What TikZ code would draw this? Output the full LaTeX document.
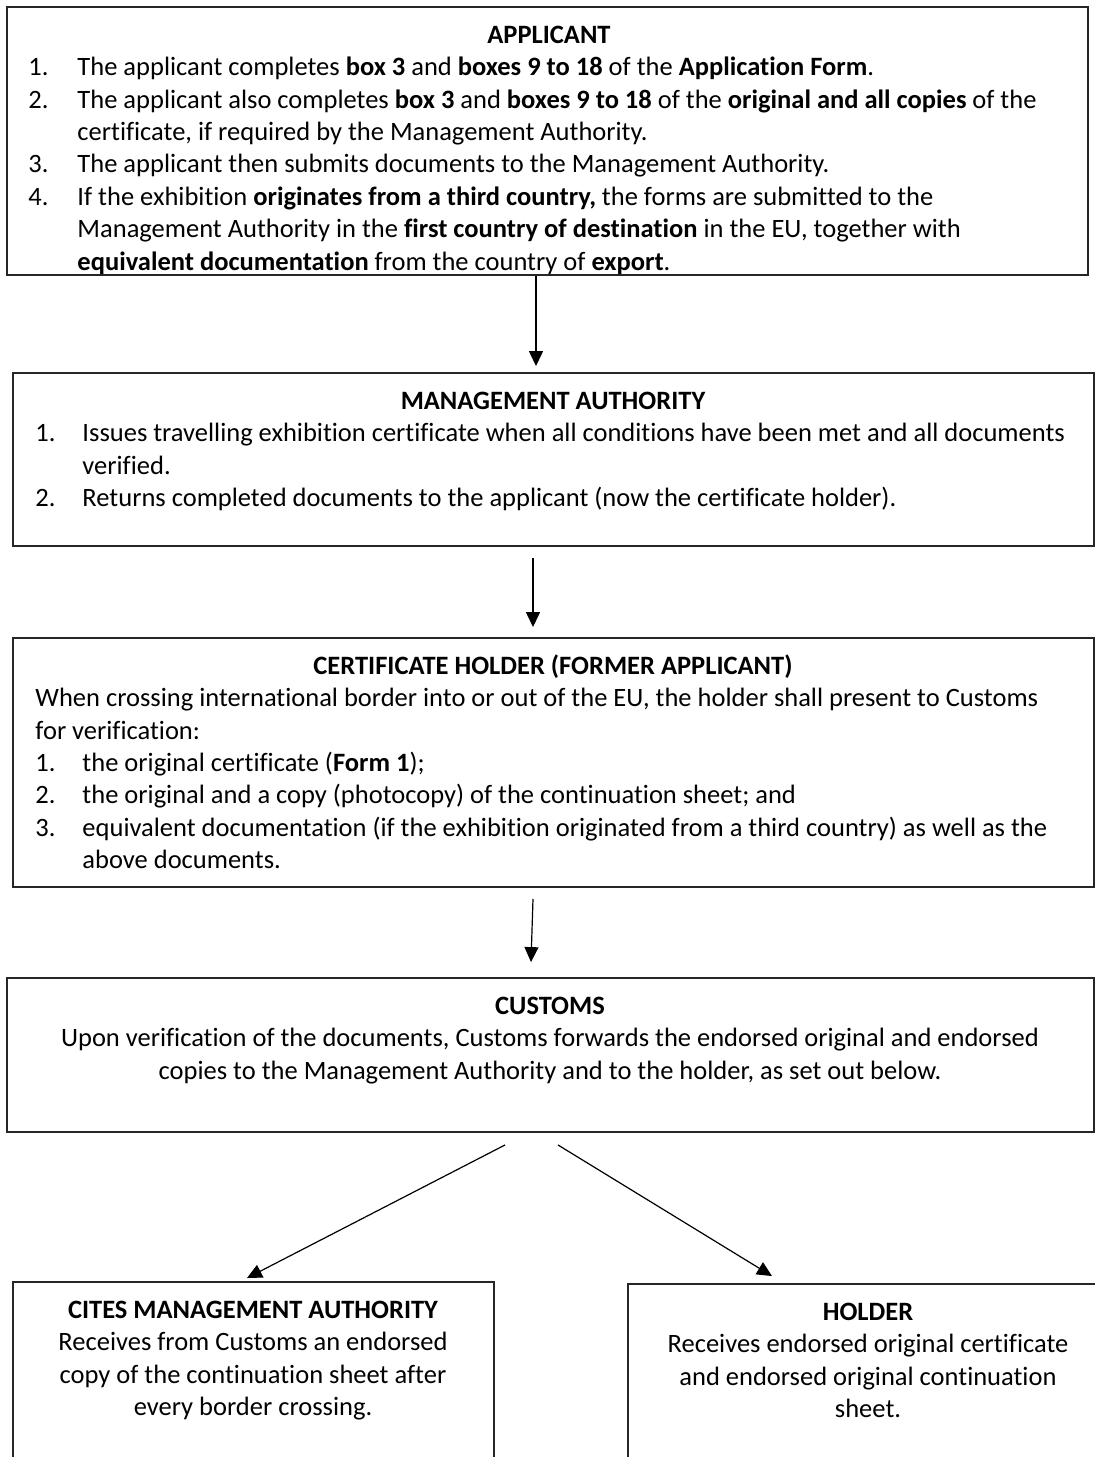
\documentclass[tikz,border=0pt]{standalone}
\usepackage{fontspec}
\setmainfont{Carlito}[Ligatures=CommonOff]
\usetikzlibrary{arrows.meta,calc,fit}
\begin{document}
\begin{tikzpicture}[x=0.415pt,y=-0.415pt,
  box/.style={draw=black!85,line width=0.8pt,inner sep=0pt},
  txt/.style={anchor=base west,inner sep=0pt,font=\fontsize{11pt}{13.4pt}\selectfont},
  ctr/.style={anchor=base,inner sep=0pt,font=\fontsize{11pt}{13.4pt}\selectfont},
  ttl/.style={anchor=base,inner sep=0pt,font=\fontsize{11pt}{13.4pt}\selectfont\bfseries},
  arr/.style={line width=0.5pt,black,-{Triangle[length=6.2pt,width=5.8pt]}}]
\useasboundingbox (0,0) rectangle (1095,1457);

% ---- box outlines -------------------------------------------------------
\coordinate (appNW) at (7,7);       \coordinate (appSE) at (1088,275);
\coordinate (maNW)  at (13,373);    \coordinate (maSE)  at (1094,546);
\coordinate (chNW)  at (13,638);    \coordinate (chSE)  at (1094,887);
\coordinate (cuNW)  at (7,978);     \coordinate (cuSE)  at (1094,1132);
\coordinate (cmNW)  at (13,1282);   \coordinate (cmSE)  at (494,1475);
\coordinate (hoNW)  at (628,1284);  \coordinate (hoSE)  at (1108,1475);

\node[box,fit=(appNW)(appSE)] (app) {};
\node[box,fit=(maNW)(maSE)]   (ma)  {};
\node[box,fit=(chNW)(chSE)]   (ch)  {};
\node[box,fit=(cuNW)(cuSE)]   (cu)  {};
\node[box,fit=(cmNW)(cmSE)]   (cm)  {};
\node[box,fit=(hoNW)(hoSE)]   (ho)  {};

% ---- applicant (overflowing text is cut off at the bottom) --------------
\begin{scope}
\clip (7,7) rectangle (1088,273);
\node[ttl] (appT) at (549,43.5) {APPLICANT};
\node[txt] (app1n) at (28,75.8) {1.};
\node[txt] (app1)  at (77,75.8) {The applicant completes \textbf{box 3} and \textbf{boxes 9 to 18} of the \textbf{Application Form}.};
\node[txt] (app2n) at (28,108.1) {2.};
\node[txt] (app2a) at (77,108.1) {The applicant also completes \textbf{box 3} and \textbf{boxes 9 to 18} of the \textbf{original and all copies} of the};
\node[txt] (app2b) at (77,140.4) {certificate, if required by the Management Authority.};
\node[txt] (app3n) at (28,172.7) {3.};
\node[txt] (app3)  at (77,172.7) {The applicant then submits documents to the Management Authority.};
\node[txt] (app4n) at (28,205.0) {4.};
\node[txt] (app4a) at (77,205.0) {If the exhibition \textbf{originates from a third country,} the forms are submitted to the};
\node[txt] (app4b) at (77,237.3) {Management Authority in the \textbf{first country of destination} in the EU, together with};
\node[txt] (app4c) at (77,270.6) {\textbf{equivalent documentation} from the country of \textbf{export}.};
\end{scope}

% ---- management authority ----------------------------------------------
\node[ttl] (maT)  at (553,409.5) {MANAGEMENT AUTHORITY};
\node[txt] (ma1n) at (35,441.8) {1.};
\node[txt] (ma1a) at (82,441.8) {Issues travelling exhibition certificate when all conditions have been met and all documents};
\node[txt] (ma1b) at (82,474.1) {verified.};
\node[txt] (ma2n) at (35,506.4) {2.};
\node[txt] (ma2)  at (82,506.4) {Returns completed documents to the applicant (now the certificate holder).};

% ---- certificate holder ------------------------------------------------
\node[ttl] (chT)  at (553,674.5) {CERTIFICATE HOLDER (FORMER APPLICANT)};
\node[txt] (chIa) at (35,706.8) {When crossing international border into or out of the EU, the holder shall present to Customs};
\node[txt] (chIb) at (35,739.1) {for verification:};
\node[txt] (ch1n) at (35,771.4) {1.};
\node[txt] (ch1)  at (82,771.4) {the original certificate (\textbf{Form 1});};
\node[txt] (ch2n) at (35,803.7) {2.};
\node[txt] (ch2)  at (82,803.7) {the original and a copy (photocopy) of the continuation sheet; and};
\node[txt] (ch3n) at (35,836.0) {3.};
\node[txt] (ch3a) at (82,836.0) {equivalent documentation (if the exhibition originated from a third country) as well as the};
\node[txt] (ch3b) at (82,868.3) {above documents.};

% ---- customs -----------------------------------------------------------
\node[ttl] (cuT) at (550,1014.5) {CUSTOMS};
\node[ctr] (cu1) at (550,1046.8) {Upon verification of the documents, Customs forwards the endorsed original and endorsed};
\node[ctr] (cu2) at (550,1079.1) {copies to the Management Authority and to the holder, as set out below.};

% ---- CITES management authority ----------------------------------------
\node[ttl] (cmT) at (253,1318.5) {CITES MANAGEMENT AUTHORITY};
\node[ctr] (cm1) at (253,1350.8) {Receives from Customs an endorsed};
\node[ctr] (cm2) at (253,1383.1) {copy of the continuation sheet after};
\node[ctr] (cm3) at (253,1415.4) {every border crossing.};

% ---- holder ------------------------------------------------------------
\node[ttl] (hoT) at (868,1320.5) {HOLDER};
\node[ctr] (ho1) at (868,1352.8) {Receives endorsed original certificate};
\node[ctr] (ho2) at (868,1385.1) {and endorsed original continuation};
\node[ctr] (ho3) at (868,1417.4) {sheet.};

% ---- connectors --------------------------------------------------------
\draw[arr] ($(app.south)+(-11.5,0)$) -- ($(ma.north)+(-17.5,-6)$);
\draw[arr] ($(ma.south)+(-20.5,11)$) -- ($(ch.north)+(-20.5,-10)$);
\draw[arr] ($(ch.south)+(-20.5,11)$) -- ($(cu.north)+(-19.5,-15)$);
\draw[arr] ($(cu.south)+(-45.5,12)$) -- ($(cm.north)+(-6.5,-3)$);
\draw[arr] ($(cu.south)+(7.5,12)$)  -- ($(ho.north)+(-96,-7)$);
\end{tikzpicture}
\end{document}
